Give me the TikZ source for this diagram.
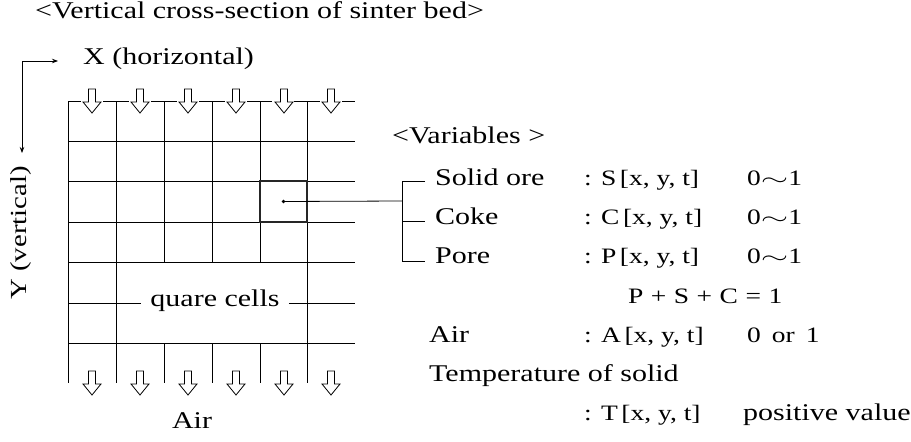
\documentclass[tikz,border=0pt]{standalone}
\usepackage{fontspec}
\usepackage{graphicx}
\usetikzlibrary{arrows.meta}
\newfontfamily\lblfont[FakeStretch=1.25]{Liberation Serif}
\newfontfamily\varfont[FakeStretch=1.25]{Liberation Serif}
\newcommand\simwide{\scalebox{1.7}[1]{$\sim$}}
\newcommand\gp{\hspace{.34em}}
\tikzset{
  lbl/.style={font=\lblfont\fontsize{24}{26}\selectfont, inner sep=0pt, anchor=mid west},
  vartxt/.style={font=\varfont\fontsize{22}{24}\selectfont, inner sep=0pt, anchor=mid west},
  gridline/.style={line width=0.8pt},
  thinarrow/.style={line width=0.8pt, -{Stealth[length=6pt,width=4.5pt]}},
  darr/.pic={\draw[line width=0.8pt, fill=white] (-3.5,0) -- (-3.5,13) -- (-9,13) -- (0,24) -- (9,13) -- (3.5,13) -- (3.5,0) -- cycle;}
}
\begin{document}
\begin{tikzpicture}[x=1pt,y=-1pt]
\useasboundingbox (0,0) rectangle (911,442);
% title and axes
\node[lbl] (title) at (35,16) {<Vertical cross-section of sinter bed>};
\node[lbl] (xlab) at (83,62) {X (horizontal)};
\node[lbl, font=\lblfont\fontsize{23}{24}\selectfont, anchor=center, rotate=90] (ylab) at (21,233) {Y (vertical)};
\coordinate (ax0) at (22,61);
\coordinate (axx) at (58,61);
\coordinate (axy) at (22,153);
\draw[thinarrow] (ax0) -- (axx);
\draw[thinarrow] (ax0) -- (axy);
% grid: horizontal lines
\foreach \y in {141,181,222,262,343} \draw[gridline] (68,\y) -- (355,\y);
% top line with gaps for arrows
\foreach \a/\b in {68/81,103/129,151/177,199/225,247/272,294/320,342/355}
  \draw[gridline] (\a,101) -- (\b,101);
% vertical lines
\foreach \x in {68,116,307} \draw[gridline] (\x,101) -- (\x,383);
\foreach \x in {164,212,260} {
  \draw[gridline] (\x,101) -- (\x,262);
  \draw[gridline] (\x,343) -- (\x,383);
}
% square cells label
\node[lbl, anchor=mid, inner xsep=9pt] (qc) at (215,304) {quare cells};
\coordinate (qcl) at (68,303);
\coordinate (qcr) at (355,303);
\draw[gridline] (qcl) -- (qcl -| qc.west);
\draw[gridline] (qc.east |- qcr) -- (qcr);
% arrows
\foreach \c in {92,140,188,236,284,331} {
  \pic at (\c,89) {darr};
  \pic at (\c,371) {darr};
}
% highlighted cell
\node[draw=black!85, line width=2.4pt, minimum width=47pt, minimum height=41pt, inner sep=0pt] (cell) at (283.5,201.5) {};
\fill (cell.center) circle (1.8pt);
\coordinate (bm) at (402,201);
\coordinate (bt) at (402,181);
\coordinate (bc) at (402,221);
\coordinate (bb) at (402,261);
\coordinate (et) at (425,181);
\coordinate (ec) at (425,221);
\coordinate (eb) at (425,261);
\draw[gridline] (cell.center) -- (bm);
\draw[gridline] (et) -- (bt) -- (bb) -- (eb);
\draw[gridline] (bc) -- (ec);
% variables
\node[lbl] (vars) at (392,141) {<Variables >};
\node[lbl] (solid) at (435,183) {Solid ore};
\node[lbl] (coke) at (435,222) {Coke};
\node[lbl] (pore) at (435,261) {Pore};
\node[vartxt] (sv) at (584,183) {: S\,[x, y, t]};
\node[vartxt] (cv) at (584,222) {: C\,[x, y, t]};
\node[vartxt] (pv) at (584,261) {: P\,[x, y, t]};
\node[vartxt] (sr) at (747,183) {0\simwide 1};
\node[vartxt] (cr) at (747,222) {0\simwide 1};
\node[vartxt] (pr) at (747,261) {0\simwide 1};
\node[vartxt] (sum) at (628,301) {P\gp+\gp S\gp+\gp C\gp=\gp 1};
\node[lbl] (air) at (429,340) {Air};
\node[vartxt] (av) at (584,340) {: A\,[x, y, t]};
\node[vartxt] (ar) at (747,340) {0\enspace or\enspace 1};
\node[lbl] (temp) at (429,379) {Temperature of solid};
\node[vartxt] (tv) at (584,418) {: T\,[x, y, t]};
\node[lbl] (tr) at (743,418) {positive value};
\node[lbl, anchor=mid] (airb) at (192,426) {Air};
\end{tikzpicture}
\end{document}
